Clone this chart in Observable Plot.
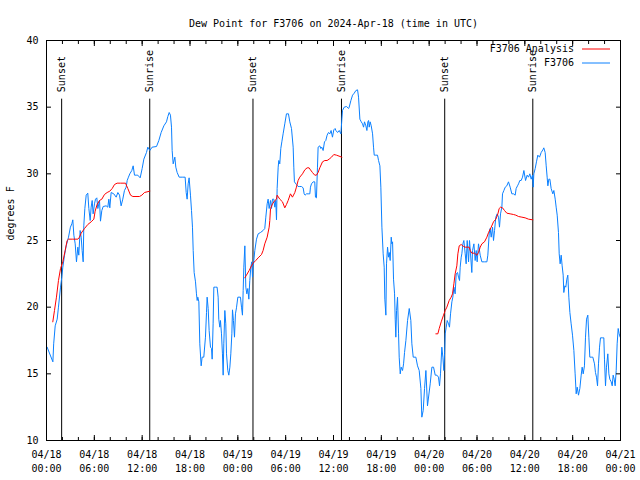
<!DOCTYPE html>
<html>
<head>
<meta charset="utf-8">
<script src="https://cdn.jsdelivr.net/npm/d3@7"></script>
<script src="https://cdn.jsdelivr.net/npm/@observablehq/plot@0.6"></script>
<style>
  html, body { margin: 0; padding: 0; background: #fff; }
</style>
</head>
<body>
<div id="chart"></div>
<script>
// ---- Text ----
const title = "Dew Point for F3706 on 2024-Apr-18 (time in UTC)";
const yLabel = "degrees F";

// ---- Axes (hours since 04/18 00:00 UTC) ----
const xTickHours = [0, 6, 12, 18, 24, 30, 36, 42, 48, 54, 60, 66, 72];
const xTickLabels = ["04/18\n00:00", "04/18\n06:00", "04/18\n12:00", "04/18\n18:00",
                     "04/19\n00:00", "04/19\n06:00", "04/19\n12:00", "04/19\n18:00",
                     "04/20\n00:00", "04/20\n06:00", "04/20\n12:00", "04/20\n18:00",
                     "04/21\n00:00"];
const xMinorHours = [0, 2, 4, 6, 8, 10, 12, 14, 16, 18, 20, 22, 24, 26, 28, 30, 32, 34, 36,
                     38, 40, 42, 44, 46, 48, 50, 52, 54, 56, 58, 60, 62, 64, 66, 68, 70, 72];
const yTicks = [10, 15, 20, 25, 30, 35, 40];

// ---- Sun events ----
const sunHours = [1.9, 12.95, 25.9, 37.0, 49.95, 61.0];
const sunLabels = ["Sunset", "Sunrise", "Sunset", "Sunrise", "Sunset", "Sunrise"];
const sunTop = 35.6;

// ---- Series names / colours ----
const seriesNames = ["F3706 Analysis", "F3706"];
const seriesColors = ["#ff0000", "#0a80ff"];

// ---- F3706 observations ----
const obsHours = [
  0.08, 0.8, 0.9, 1.09, 1.34, 1.5, 1.76, 1.92, 2.05, 2.26, 2.47, 2.76, 3.0, 3.18, 3.3, 3.43, 3.6, 3.76, 3.93, 4.05,
  4.22, 4.35, 4.47, 4.6, 4.68, 4.81, 4.98, 5.18, 5.31, 5.48, 5.6, 5.73, 5.85, 6.02, 6.15, 6.31, 6.44, 6.65, 6.77, 6.94,
  7.11, 7.48, 7.69, 7.82, 7.94, 8.11, 8.44, 8.74, 8.95, 9.16, 9.36, 9.57, 9.78, 9.99, 10.12, 10.28, 10.45, 10.7, 10.87, 11.04,
  11.25, 11.45, 11.75, 12.0, 12.21, 12.54, 12.71, 12.96, 13.25, 13.8, 14.09, 14.38, 14.72, 15.05, 15.22, 15.39, 15.55, 15.68, 15.76, 15.89,
  16.1, 16.22, 16.39, 16.64, 17.02, 17.39, 17.52, 17.64, 17.77, 17.89, 18.06, 18.19, 18.31, 18.4, 18.52, 18.69, 18.81, 18.9, 18.98, 19.11,
  19.23, 19.4, 19.52, 19.73, 19.94, 20.07, 20.15, 20.28, 20.4, 20.57, 20.7, 20.78, 20.9, 20.99, 21.2, 21.4, 21.53, 21.61, 21.74, 21.82,
  21.95, 22.07, 22.16, 22.24, 22.37, 22.49, 22.58, 22.74, 22.87, 23.0, 23.12, 23.25, 23.33, 23.45, 23.58, 23.7, 23.83, 24.0, 24.33, 24.46,
  24.58, 24.67, 24.75, 24.88, 25.0, 25.13, 25.25, 25.38, 25.5, 25.63, 25.75, 25.84, 25.92, 26.13, 26.34, 26.55, 26.84, 27.17, 27.38, 27.51,
  27.68, 27.8, 27.93, 28.1, 28.22, 28.35, 28.51, 28.64, 28.76, 28.85, 28.93, 29.06, 29.14, 29.26, 29.39, 29.52, 29.68, 29.89, 30.1, 30.35,
  30.52, 30.73, 30.94, 31.02, 31.1, 31.35, 31.56, 31.77, 31.98, 32.19, 32.32, 32.44, 32.61, 32.82, 33.03, 33.11, 33.24, 33.45, 33.65, 33.74,
  33.86, 33.99, 34.07, 34.28, 34.41, 34.53, 34.7, 34.87, 35.03, 35.2, 35.37, 35.54, 35.7, 35.87, 36.04, 36.2, 36.3, 36.51, 36.72, 36.93,
  37.05, 37.13, 37.34, 37.64, 37.89, 37.97, 38.18, 38.39, 38.6, 38.81, 39.02, 39.14, 39.31, 39.48, 39.64, 39.77, 39.89, 40.06, 40.19, 40.31,
  40.4, 40.48, 40.6, 40.73, 40.9, 41.02, 41.11, 41.31, 41.52, 41.65, 41.82, 41.94, 42.07, 42.23, 42.36, 42.44, 42.57, 42.65, 42.78, 42.9,
  42.99, 43.11, 43.24, 43.32, 43.41, 43.53, 43.66, 43.74, 43.82, 43.91, 44.03, 44.16, 44.24, 44.37, 44.49, 44.66, 44.79, 44.91, 45.08, 45.29,
  45.5, 45.7, 45.83, 46.0, 46.33, 46.54, 46.75, 46.96, 47.08, 47.25, 47.42, 47.59, 47.79, 48.13, 48.34, 48.55, 48.76, 48.97, 49.17, 49.3,
  49.42, 49.59, 49.72, 49.84, 49.93, 50.01, 50.14, 50.26, 50.43, 50.55, 50.68, 50.85, 50.97, 51.1, 51.26, 51.39, 51.56, 51.68, 51.81, 51.89,
  52.02, 52.1, 52.23, 52.35, 52.52, 52.64, 52.77, 52.94, 53.06, 53.19, 53.35, 53.44, 53.61, 53.77, 53.9, 54.02, 54.19, 54.4, 54.61, 54.94,
  55.24, 55.36, 55.53, 55.65, 55.78, 55.95, 56.07, 56.2, 56.36, 56.53, 56.7, 56.82, 56.95, 57.12, 57.2, 57.37, 57.54, 57.74, 57.95, 58.16,
  58.37, 58.58, 58.79, 58.91, 59.08, 59.21, 59.37, 59.54, 59.71, 59.88, 60.09, 60.29, 60.46, 60.63, 60.8, 60.96, 61.05, 61.13, 61.3, 61.46,
  61.63, 61.84, 62.05, 62.26, 62.38, 62.55, 62.68, 62.8, 62.89, 63.01, 63.14, 63.3, 63.51, 63.64, 63.81, 63.93, 64.06, 64.22, 64.31, 64.43,
  64.56, 64.68, 64.81, 64.89, 65.02, 65.14, 65.27, 65.39, 65.52, 65.65, 65.81, 65.98, 66.15, 66.31, 66.44, 66.57, 66.73, 66.9, 67.07, 67.19,
  67.32, 67.48, 67.61, 67.74, 67.9, 68.03, 68.15, 68.32, 68.53, 68.74, 68.86, 68.99, 69.12, 69.24, 69.37, 69.49, 69.78, 69.91, 69.99, 70.12,
  70.24, 70.41, 70.54, 70.66, 70.83, 70.96, 71.08, 71.21, 71.33, 71.46, 71.58, 71.71, 71.83, 71.96
];
const obsValues = [
  17.0, 15.9, 17.25, 18.6, 19.1, 20.0, 21.5, 22.25, 23.0, 23.9, 24.6, 25.25, 26.0, 26.25, 26.55, 25.4, 24.75, 23.4, 24.5, 23.9,
  25.75, 25.25, 24.25, 23.4, 26.1, 27.4, 28.4, 28.55, 27.4, 26.5, 27.5, 28.0, 27.0, 27.75, 28.1, 28.2, 27.4, 28.0, 26.45, 27.25,
  27.55, 27.6, 27.5, 28.1, 27.45, 28.6, 28.5, 28.25, 28.6, 28.4, 27.6, 28.1, 28.75, 29.0, 29.5, 29.75, 30.0, 30.25, 30.6, 29.9,
  29.9, 29.9, 29.7, 30.4, 31.1, 31.6, 32.0, 31.75, 32.0, 32.05, 32.5, 33.1, 33.6, 33.9, 34.3, 34.6, 34.4, 33.5, 31.75, 30.75,
  31.25, 30.5, 30.1, 29.75, 29.75, 29.75, 28.6, 28.1, 29.25, 29.7, 28.4, 27.25, 26.0, 24.25, 22.6, 21.9, 21.0, 20.5, 20.75, 20.4,
  17.25, 15.6, 16.25, 16.25, 17.75, 19.6, 20.75, 19.9, 18.25, 17.0, 16.9, 16.1, 18.75, 21.5, 21.5, 21.5, 20.75, 19.1, 18.5, 19.0,
  18.0, 16.5, 14.9, 17.25, 19.75, 18.75, 16.5, 15.25, 14.9, 15.5, 16.5, 18.0, 19.8, 19.0, 17.75, 19.5, 19.95, 20.75, 20.75, 20.0,
  19.4, 21.25, 23.0, 24.6, 21.5, 21.0, 21.4, 20.6, 22.0, 23.0, 23.4, 22.25, 23.0, 24.25, 25.1, 25.5, 25.6, 25.75, 25.9, 26.75,
  27.75, 28.1, 27.4, 28.0, 27.4, 28.1, 28.1, 27.5, 28.0, 26.55, 28.9, 30.5, 31.0, 30.75, 31.9, 32.4, 33.0, 33.75, 34.5, 34.5,
  33.9, 33.4, 32.0, 30.5, 29.4, 29.2, 29.05, 29.05, 29.05, 28.95, 28.5, 28.4, 28.5, 28.5, 28.5, 29.0, 29.25, 29.4, 29.4, 28.25,
  28.2, 30.5, 32.0, 32.1, 31.9, 32.0, 31.75, 32.4, 32.5, 32.9, 33.1, 33.0, 33.25, 32.75, 33.3, 33.4, 33.25, 33.1, 33.25, 33.0,
  34.1, 34.75, 35.0, 35.05, 34.9, 35.0, 35.5, 35.9, 36.05, 36.25, 36.3, 35.75, 34.1, 33.9, 33.75, 33.5, 33.9, 33.6, 33.25, 33.9,
  34.0, 33.5, 33.9, 33.6, 33.0, 32.0, 31.4, 31.4, 31.4, 31.0, 30.6, 29.0, 26.0, 24.0, 23.0, 20.6, 19.4, 23.25, 24.5, 23.75,
  24.1, 23.5, 25.25, 24.75, 24.9, 22.1, 21.0, 19.1, 17.75, 19.75, 20.75, 18.0, 16.25, 15.0, 15.5, 15.25, 15.75, 16.6, 17.5, 19.0,
  19.9, 19.0, 17.25, 16.25, 16.25, 15.6, 15.25, 13.9, 11.75, 12.25, 13.9, 15.25, 12.6, 14.25, 15.5, 15.5, 14.9, 14.9, 14.75, 14.1,
  15.0, 17.0, 16.25, 15.25, 16.5, 18.0, 18.5, 19.0, 18.75, 18.5, 19.5, 20.4, 20.75, 21.5, 21.0, 22.5, 22.6, 22.25, 22.0, 23.0,
  23.75, 24.0, 24.75, 25.0, 24.0, 23.25, 25.0, 23.4, 25.0, 24.0, 22.6, 24.25, 24.75, 23.5, 24.25, 23.4, 24.75, 23.9, 23.4, 23.4,
  23.4, 23.9, 25.5, 25.9, 25.25, 26.0, 25.0, 25.75, 26.75, 27.0, 26.75, 26.0, 27.0, 27.5, 28.5, 28.75, 29.0, 29.1, 29.4, 29.0,
  28.5, 28.5, 28.4, 28.9, 29.1, 29.25, 29.5, 29.5, 29.75, 30.25, 29.5, 29.9, 29.75, 30.0, 29.6, 29.9, 29.0, 30.0, 30.4, 30.9,
  31.4, 31.25, 31.6, 31.8, 31.95, 31.6, 30.6, 29.75, 29.1, 29.6, 29.6, 28.9, 28.5, 28.75, 28.1, 27.5, 26.9, 25.6, 24.0, 23.25,
  23.9, 23.1, 22.4, 21.1, 21.6, 21.5, 22.1, 22.4, 20.75, 19.6, 18.75, 17.9, 16.75, 15.0, 13.5, 14.0, 13.4, 13.9, 14.9, 15.5,
  15.0, 15.6, 17.75, 19.1, 19.4, 17.75, 16.25, 16.25, 16.25, 15.75, 15.1, 14.75, 14.1, 15.75, 17.0, 17.7, 17.7, 17.7, 16.1, 14.1,
  15.5, 16.5, 15.0, 14.6, 14.4, 14.1, 14.9, 14.6, 14.1, 15.25, 17.25, 18.4, 18.0, 17.75
];

// ---- F3706 Analysis (null separates the three runs) ----
const anaHours = [
  0.79, 1.0, 1.25, 1.5, 1.76, 2.05, 2.34, 2.59, 2.76, 3.3, 3.93, 4.14, 4.35, 4.77, 5.18, 5.6, 5.94, 6.1, 6.35, 6.65,
  6.94, 7.27, 7.61, 7.94, 8.24, 8.53, 8.86, 9.28, 9.91, 10.2, 10.54, 10.83, 11.66, 11.96, 12.29, 12.96,
  null,
  24.88, 25.08, 25.42, 25.71, 25.92, 26.25, 26.55, 26.97, 27.17, 27.38, 27.68, 27.93, 28.01, 28.1, 28.35, 28.64, 28.85, 28.93, 29.26,
  29.6, 29.89, 30.1, 30.31, 30.6, 30.85, 31.15, 31.35, 31.56, 31.77, 32.11, 32.4, 32.69, 32.94, 33.11, 33.36, 33.65, 33.86, 34.07,
  34.28, 34.62, 34.91, 35.2, 35.45, 35.75, 36.04, 36.37, 37.05,
  null,
  48.84, 49.09, 49.26, 49.51, 49.8, 50.01, 50.22, 50.51, 50.76, 50.93, 51.1, 51.26, 51.47, 51.6, 51.77, 52.02, 52.31, 52.52, 52.85,
  53.02, 53.15, 53.35, 53.69, 53.98, 54.19, 54.4, 54.61, 54.94, 55.24, 55.45, 55.78, 56.07, 56.36, 56.62, 56.78, 56.95, 57.2, 57.45,
  57.74, 58.16, 58.58, 58.87, 59.21, 59.63, 60.04, 60.46, 61.0
];
const anaValues = [
  18.9, 19.75, 20.75, 22.0, 22.9, 23.4, 24.25, 25.0, 25.1, 25.1, 25.1, 25.25, 25.55, 25.9, 26.2, 26.4, 26.6, 27.2, 27.7, 28.0,
  28.1, 28.45, 28.6, 28.7, 28.9, 29.2, 29.3, 29.3, 29.3, 28.9, 28.4, 28.3, 28.3, 28.4, 28.6, 28.7,
  null,
  22.2, 22.4, 22.75, 23.1, 23.3, 23.5, 23.7, 23.95, 24.25, 24.75, 25.25, 26.0, 26.5, 27.4, 27.75, 28.0, 28.1, 28.4, 28.1,
  27.9, 27.45, 27.7, 28.0, 28.5, 28.25, 28.6, 29.0, 29.5, 29.75, 30.0, 30.3, 30.45, 30.45, 30.3, 30.1, 29.9, 29.9, 30.1,
  30.45, 30.9, 31.0, 31.0, 31.1, 31.25, 31.45, 31.4, 31.25,
  null,
  18.0, 18.0, 18.4, 18.9, 19.4, 19.75, 20.0, 20.5, 20.75, 21.0, 21.75, 22.5, 23.1, 24.0, 24.6, 24.7, 24.55, 24.5, 24.5,
  24.5, 24.25, 24.05, 24.05, 23.9, 24.1, 24.5, 24.75, 24.9, 25.25, 25.6, 26.0, 26.4, 26.6, 27.0, 27.4, 27.5, 27.45, 27.25,
  27.05, 27.0, 26.95, 26.9, 26.8, 26.75, 26.7, 26.6, 26.55
];

// ---- Tables for Plot ----
const obs = obsHours.map((h, i) => ({h, v: obsValues[i]}));
const ana = anaHours.map((h, i) => ({h, v: anaValues[i]}));
const sun = sunHours.map((h, i) => ({h, label: sunLabels[i]}));

const FONT = "'DejaVu Sans Mono', 'Liberation Mono', monospace";

function legendMark(index, scales, values, dims) {
  const g = d3.create("svg:g").attr("font-family", FONT).attr("font-size", 10);
  const xr = dims.width - dims.marginRight;
  seriesNames.forEach((name, i) => {
    const y = dims.marginTop + 9 + i * 14;
    g.append("text").attr("x", xr - 46).attr("y", y).attr("dy", "0.32em")
      .attr("text-anchor", "end").attr("fill", "black").text(name);
    g.append("line").attr("x1", xr - 38).attr("x2", xr - 10).attr("y1", y).attr("y2", y)
      .attr("stroke", seriesColors[i]).attr("stroke-width", 1);
  });
  return g.node();
}

const blank = () => "";

const chart = Plot.plot({
  width: 640,
  height: 480,
  marginTop: 40,
  marginBottom: 40,
  marginLeft: 46,
  marginRight: 20,
  style: {fontFamily: FONT, fontSize: "10px", background: "#fff", color: "#000"},
  x: {domain: [xTickHours[0], xTickHours[xTickHours.length - 1]], label: null},
  y: {domain: [yTicks[0], yTicks[yTicks.length - 1]], label: null},
  marks: [
    Plot.ruleX(sun, {x: "h", y1: yTicks[0], y2: sunTop, stroke: "black", strokeWidth: 1}),
    Plot.text(sun, {x: "h", y: sunTop, text: "label", rotate: -90, textAnchor: "start", dy: -7, fill: "black"}),
    Plot.line(obs, {x: "h", y: "v", stroke: seriesColors[1], strokeWidth: 1}),
    Plot.line(ana, {x: "h", y: "v", stroke: seriesColors[0], strokeWidth: 1}),
    Plot.frame({stroke: "black"}),
    Plot.axisX(xMinorHours, {anchor: "bottom", tickSize: -3, tickFormat: blank, label: null}),
    Plot.axisX(xMinorHours, {anchor: "top", tickSize: -3, tickFormat: blank, label: null}),
    Plot.axisX(xTickHours, {anchor: "top", tickSize: -5, tickFormat: blank, label: null}),
    Plot.axisX(xTickHours, {anchor: "bottom", tickSize: -5, tickPadding: 13, lineHeight: 1.4,
      tickFormat: d => xTickLabels[xTickHours.indexOf(d)], label: null}),
    Plot.axisY(yTicks, {anchor: "left", tickSize: -5, tickPadding: 13, label: null}),
    Plot.axisY(yTicks, {anchor: "right", tickSize: -5, tickFormat: blank, label: null}),
    Plot.text([title], {frameAnchor: "top", dy: -21, fill: "black"}),
    Plot.text([yLabel], {frameAnchor: "left", dx: -36, rotate: -90, fill: "black"}),
    legendMark
  ]
});
document.getElementById("chart").appendChild(chart);
</script>
</body>
</html>
